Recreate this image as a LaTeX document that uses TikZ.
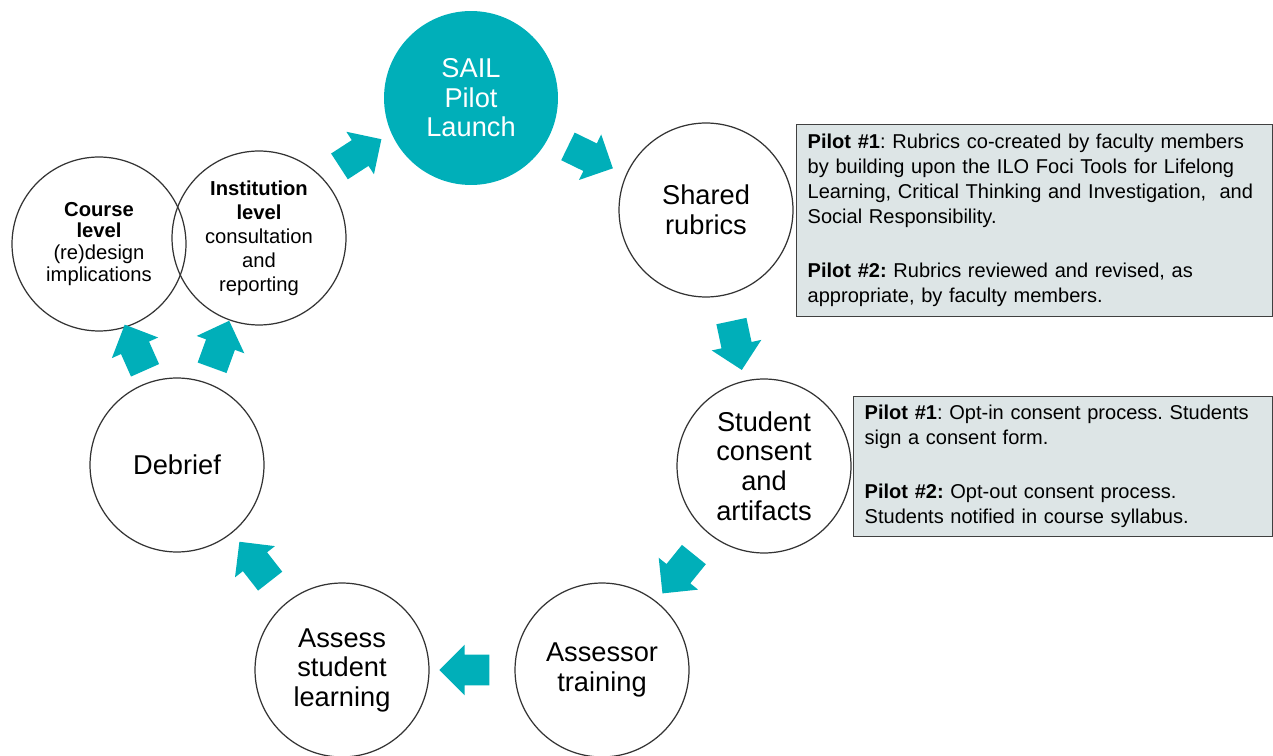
\documentclass[tikz,border=0pt]{standalone}
\usepackage{fontspec}
\setmainfont{Liberation Sans}
\usetikzlibrary{shapes.arrows,calc}

\definecolor{sailteal}{RGB}{0,175,185}
\definecolor{notegrey}{RGB}{221,229,230}
\frenchspacing

\tikzset{
  stage/.style={circle,draw=black!80,line width=0.7pt,minimum size=3.48cm,inner sep=0pt,align=center,font=\fontsize{15.5}{16.8}\selectfont},
  level/.style={stage,font=\fontsize{11.5}{13}\selectfont},
  flow/.style={single arrow,fill=sailteal,draw=none,minimum height=1cm,inner xsep=0pt,inner ysep=0.3cm,single arrow head extend=0.2cm},
  note/.style={draw=black!75,fill=notegrey,line width=0.8pt,anchor=north west,align=left,inner xsep=0.22cm,font=\fontsize{11.4}{14.2}\selectfont}
}

\begin{document}
\begin{tikzpicture}[x=0.02cm,y=-0.02cm]
\useasboundingbox (0,0) rectangle (1273,756);

% the cycle
\node[stage,fill=sailteal,draw=none,text=white] (launch) at (471,98) {SAIL\\Pilot\\Launch};
\node[stage] (rubrics) at (706,210) {Shared\\rubrics};
\node[stage] (consent) at (764,466) {Student\\consent\\and\\artifacts};
\node[stage] (training) at (602,670) {Assessor\\training};
\node[stage] (assess) at (342,670) {Assess\\student\\learning};
\node[stage] (debrief) at (177,465) {Debrief};
\node[level,font=\fontsize{11.5}{12.5}\selectfont] (course) at (99,244) {\textbf{Course}\\\textbf{level}\\(re)design\\implications};
\node[level,font=\fontsize{11.5}{13.6}\selectfont] (institution) at (259,238) {\textbf{Institution}\\\textbf{level}\\consultation\\and\\reporting};

% block arrows between stages
\node[flow,rotate=33] (a1) at ($(institution)!0.5!(launch)+(-11,-11)$) {};
\node[flow,rotate=-26] (a2) at ($(launch)!0.5!(rubrics)+(-5,0)$) {};
\node[flow,rotate=-78] (a3) at ($(rubrics)!0.5!(consent)$) {};
\node[flow,rotate=231] (a4) at ($(consent)!0.5!(training)$) {};
\node[flow,rotate=180] (a5) at ($(training)!0.5!(assess)$) {};
\node[flow,rotate=128] (a6) at ($(assess)!0.5!(debrief)$) {};
\node[flow,rotate=114] (a7) at ($(debrief)!0.5!(course)$) {};
\node[flow,rotate=70] (a8) at ($(debrief)!0.5!(institution)$) {};

% notes
\node[note,text width=9.08cm,minimum height=3.84cm] (rubricsnote) at (796,124) {%
\textbf{Pilot \#1}: Rubrics co-created by faculty members\\
by building upon the ILO Foci Tools for Lifelong\\
Learning, Critical Thinking and Investigation,~ and\\
Social Responsibility.\\[16.5pt]
\textbf{Pilot \#2:} Rubrics reviewed and revised, as\\
appropriate, by faculty members.};
\node[note,text width=7.94cm,minimum height=2.8cm] (consentnote) at (853,396) {%
\textbf{Pilot \#1}: Opt-in consent process. Students\\
sign a consent form.\\[16.5pt]
\textbf{Pilot \#2:} Opt-out consent process.\\
Students notified in course syllabus.};
\end{tikzpicture}
\end{document}
